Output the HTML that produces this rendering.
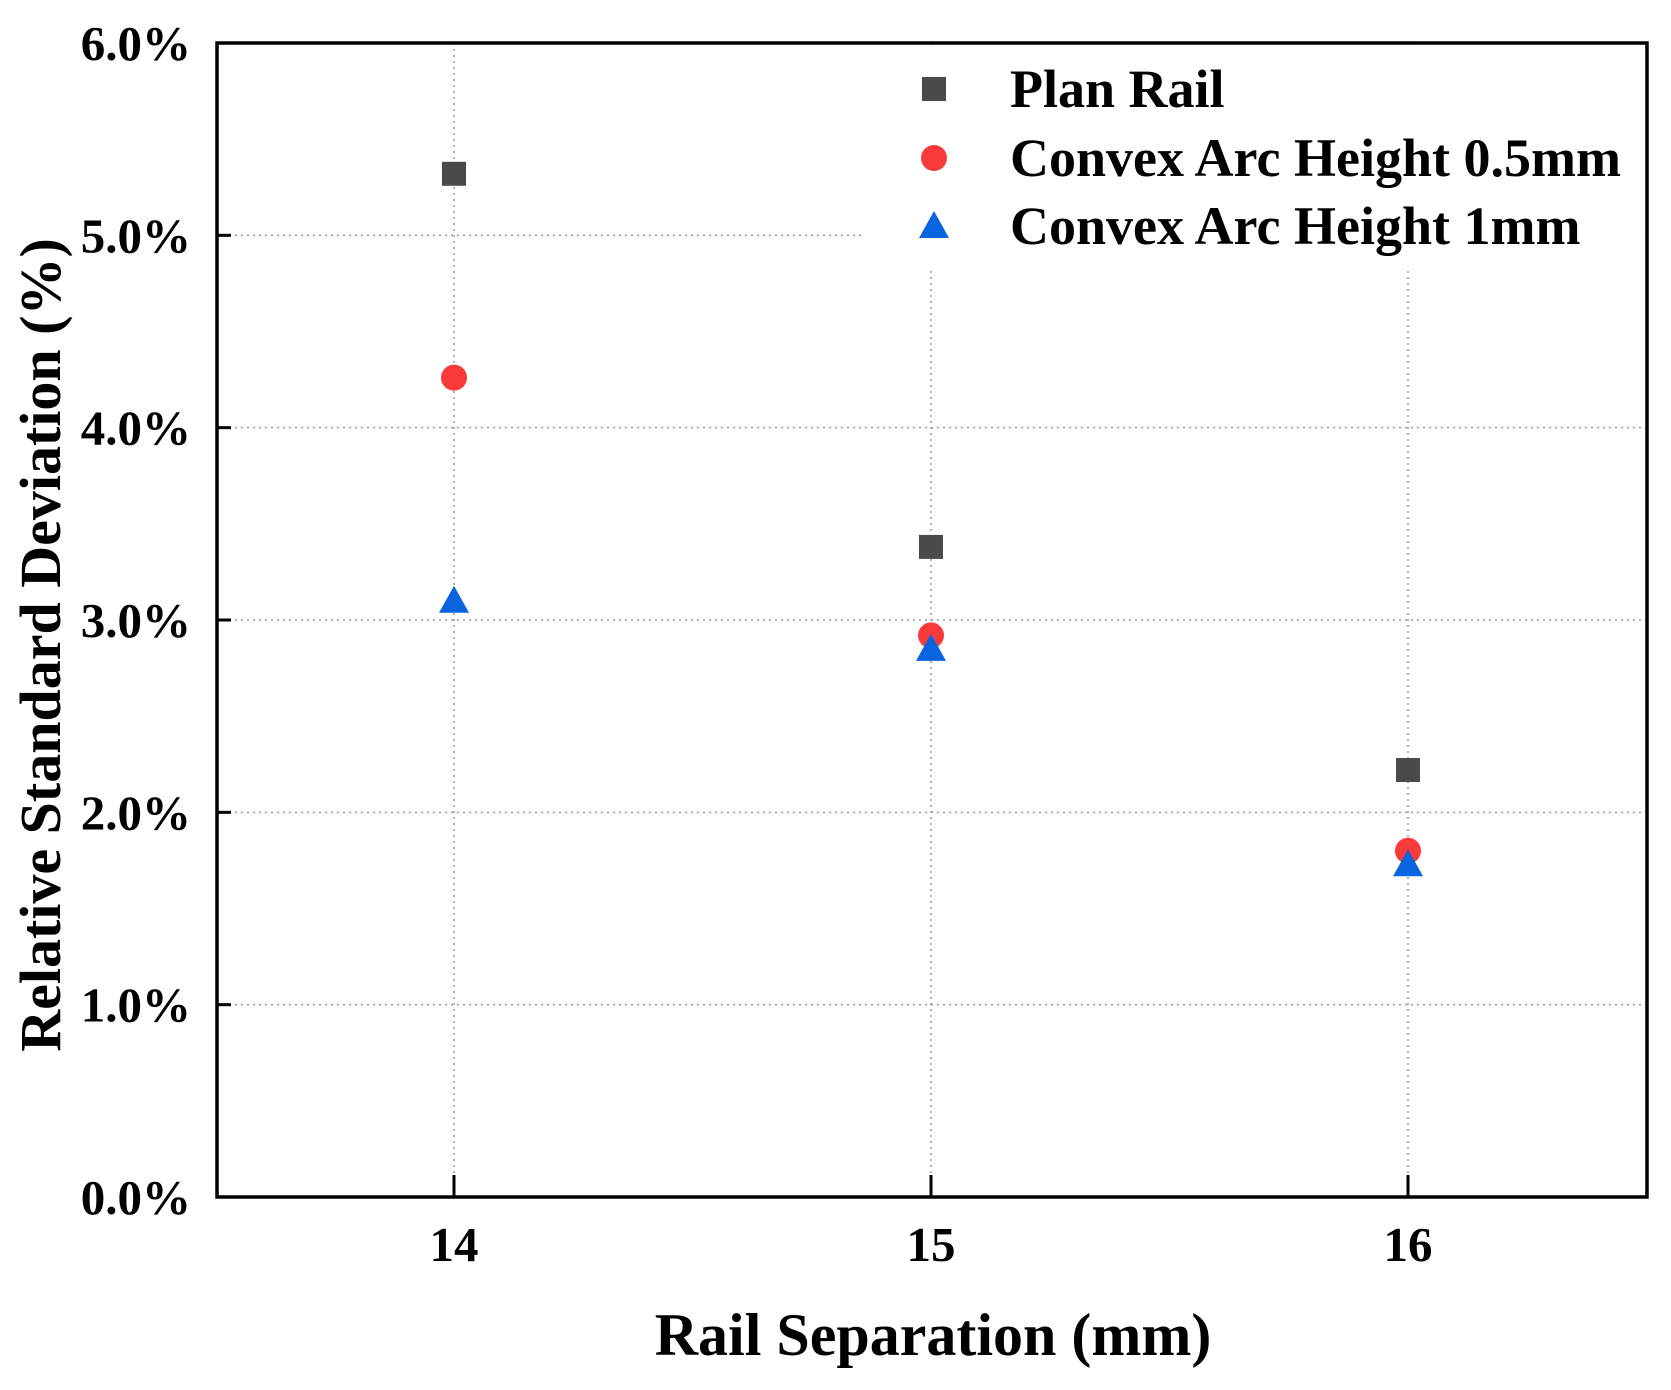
<!DOCTYPE html>
<html><head><meta charset="utf-8"><style>
html,body{margin:0;padding:0;background:#fff;}
svg{display:block;font-family:"Liberation Serif",serif;font-weight:bold;}
</style></head><body>
<svg id="chart" width="1671" height="1390">
<g id="grid"></g>
<rect x="864" y="46" width="780" height="221" fill="#fff"/>
<g id="marks"></g>
<rect x="217" y="43" width="1430" height="1154" fill="none" stroke="#000" stroke-width="3.5"/>
<g id="axes"></g>
<g id="legend"></g>
<text x="933" y="1355" text-anchor="middle" font-size="60">Rail Separation (mm)</text>
<text transform="translate(60,645) rotate(-90)" text-anchor="middle" font-size="58">Relative Standard Deviation (%)</text>
</svg>
<script>
const categories=[14,15,16];
const planRail=[5.32,3.38,2.22];
const arc05=[4.26,2.92,1.80];
const arc1=[3.10,2.85,1.73];
const yTicks=[0,1,2,3,4,5,6];
const yTickLabels=["0.0%","1.0%","2.0%","3.0%","4.0%","5.0%","6.0%"];
const xTickLabels=["14","15","16"];
const seriesNames=["Plan Rail","Convex Arc Height 0.5mm","Convex Arc Height 1mm"];

const NS="http://www.w3.org/2000/svg";
const L=217,R=1647,T=43,B=1197;
function xs(v){return 454+(v-14)*477;}
function ys(v){return B-(v/6)*(B-T);}
function mk(tag,attrs,parent){const e=document.createElementNS(NS,tag);for(const k in attrs)e.setAttribute(k,attrs[k]);parent.appendChild(e);return e;}
const grid=document.getElementById('grid'),axes=document.getElementById('axes'),marks=document.getElementById('marks'),legend=document.getElementById('legend');
yTicks.forEach((t,i)=>{
 const y=ys(t);
 if(t>0&&t<6){const g=mk('line',{x1:L,x2:R,y1:y,y2:y,stroke:'#999','stroke-width':1.5,'stroke-dasharray':'2,4'},grid);
 
 }
 const tk=mk('line',{x1:L,x2:L+14,y1:y,y2:y,stroke:'#000','stroke-width':3},axes);
 
 
 const lb=mk('text',{x:191,y:y+17,'text-anchor':'end','font-size':49},axes);
 lb.textContent=yTickLabels[i];
 
 
});
categories.forEach((c,i)=>{
 const x=xs(c);
 const g=mk('line',{x1:x,x2:x,y1:T,y2:B,stroke:'#999','stroke-width':1.5,'stroke-dasharray':'2,4'},grid);
 
 
 const tk=mk('line',{x1:x,x2:x,y1:B,y2:B-22,stroke:'#000','stroke-width':3},axes);
 
 
 const lb=mk('text',{x:x,y:1261,'text-anchor':'middle','font-size':49},axes);
 lb.textContent=xTickLabels[i];
 
 
});
function square(x,y,p){return mk('rect',{x:x-12,y:y-12,width:24,height:24,fill:'#4a4a4a'},p);}
function circle(x,y,p){return mk('circle',{cx:x,cy:y,r:13,fill:'#f93a3a'},p);}
function tri(x,y,p){return mk('polygon',{points:`${x},${y-15} ${x+15},${y+12} ${x-15},${y+12}`,fill:'#0a64e0'},p);}
categories.forEach((c,i)=>{
 let e=square(xs(c),ys(planRail[i]),marks);
 
 
 e=circle(xs(c),ys(arc05[i]),marks);
 
 
 e=tri(xs(c),ys(arc1[i]),marks);
 
 
});
const ly=[89,158,226];
let le=square(934,ly[0],legend);


le=circle(934,ly[1],legend);


le=tri(934,ly[2],legend);


seriesNames.forEach((n,i)=>{
 const t=mk('text',{x:1010,y:ly[i]+18,'font-size':54},legend);
 t.textContent=n;
 
 
});
</script>
</body></html>
